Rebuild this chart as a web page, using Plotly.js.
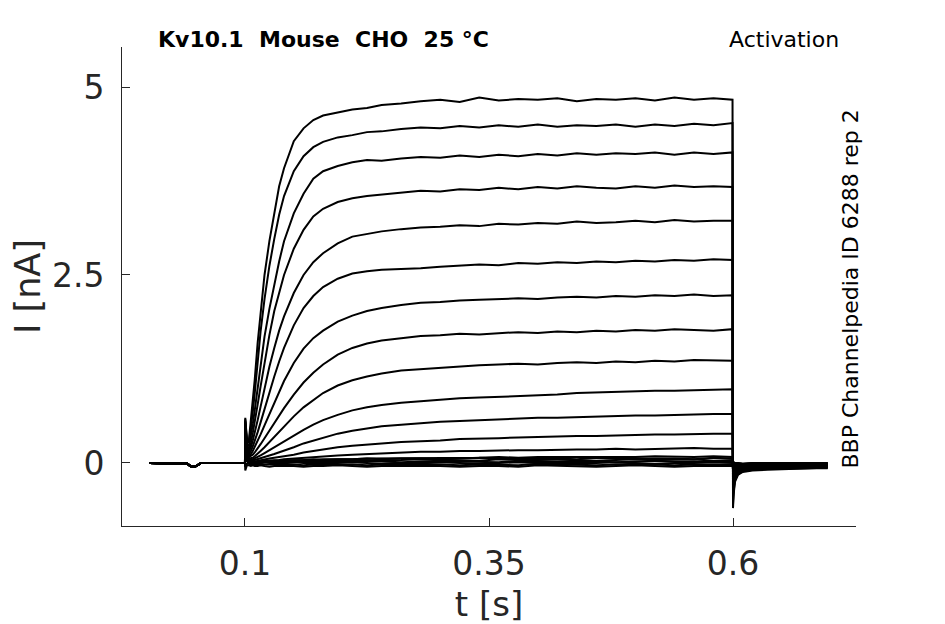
<!DOCTYPE html>
<html>
<head>
<meta charset="utf-8">
<script src="https://cdn.plot.ly/plotly-3.0.1.min.js"></script>
<style>html,body{margin:0;padding:0;background:#fff;}#chart{width:945px;height:624px;}</style>
</head>
<body>
<div id="chart"></div>
<script>
// time axis pieces [s]
const preT  = [0.002, 0.01, 0.02, 0.03, 0.038, 0.041, 0.044, 0.047, 0.05, 0.052, 0.055, 0.065, 0.075, 0.085, 0.095, 0.0998];
const preI  = [0.00, 0.00, 0.00, 0.00, 0.00, -0.01, -0.04, -0.05, -0.04, -0.02, 0.00, 0.00, 0.00, 0.00, 0.00, 0.00];
const pulseT = [0.1, 0.1003, 0.102, 0.104, 0.106, 0.108, 0.11, 0.113, 0.116, 0.12, 0.125, 0.13, 0.135, 0.14, 0.15, 0.16, 0.17, 0.18, 0.195, 0.21, 0.225, 0.24, 0.26, 0.28, 0.3, 0.32, 0.34, 0.36, 0.38, 0.4, 0.42, 0.44, 0.46, 0.48, 0.5, 0.52, 0.54, 0.56, 0.58, 0.5995];
const tailT = [0.6, 0.6006, 0.602, 0.605, 0.61, 0.62, 0.635, 0.65, 0.665, 0.68, 0.697];

// current during the step [nA], one array per sweep
const sweep01 = [0, 0.60, 0.30, 0.30, 0.55, 0.82, 1.11, 1.60, 2.03, 2.50, 2.95, 3.33, 3.68, 3.92, 4.28, 4.45, 4.56, 4.62, 4.66, 4.70, 4.72, 4.76, 4.78, 4.81, 4.83, 4.80, 4.86, 4.82, 4.84, 4.83, 4.85, 4.81, 4.84, 4.83, 4.85, 4.82, 4.86, 4.83, 4.85, 4.83];
const sweep02 = [0, 0.58, 0.28, 0.27, 0.45, 0.68, 0.93, 1.35, 1.75, 2.18, 2.62, 2.98, 3.30, 3.55, 3.88, 4.08, 4.20, 4.27, 4.33, 4.36, 4.40, 4.41, 4.44, 4.46, 4.45, 4.48, 4.46, 4.49, 4.47, 4.50, 4.47, 4.49, 4.48, 4.50, 4.47, 4.50, 4.48, 4.51, 4.49, 4.52];
const sweep03 = [0, 0.56, 0.25, 0.22, 0.35, 0.52, 0.70, 1.00, 1.30, 1.68, 2.05, 2.38, 2.68, 2.95, 3.32, 3.58, 3.78, 3.88, 3.95, 4.00, 4.03, 4.02, 4.05, 4.07, 4.06, 4.09, 4.07, 4.10, 4.08, 4.11, 4.09, 4.12, 4.10, 4.12, 4.11, 4.13, 4.10, 4.13, 4.11, 4.13];
const sweep04 = [0, 0.54, 0.23, 0.18, 0.27, 0.40, 0.54, 0.78, 1.02, 1.35, 1.70, 2.02, 2.28, 2.50, 2.85, 3.10, 3.28, 3.38, 3.47, 3.52, 3.55, 3.57, 3.60, 3.62, 3.61, 3.64, 3.63, 3.66, 3.64, 3.67, 3.65, 3.68, 3.66, 3.65, 3.68, 3.66, 3.69, 3.67, 3.68, 3.67];
const sweep05 = [0, 0.52, 0.21, 0.15, 0.21, 0.30, 0.40, 0.57, 0.75, 1.00, 1.28, 1.53, 1.76, 1.95, 2.26, 2.50, 2.67, 2.79, 2.92, 3.01, 3.05, 3.08, 3.11, 3.13, 3.14, 3.16, 3.15, 3.18, 3.17, 3.19, 3.18, 3.21, 3.19, 3.20, 3.22, 3.20, 3.23, 3.21, 3.22, 3.22];
const sweep06 = [0, 0.50, 0.19, 0.12, 0.16, 0.22, 0.29, 0.41, 0.54, 0.72, 0.94, 1.15, 1.35, 1.53, 1.83, 2.06, 2.22, 2.34, 2.45, 2.52, 2.55, 2.57, 2.58, 2.59, 2.61, 2.62, 2.64, 2.63, 2.66, 2.65, 2.67, 2.66, 2.68, 2.67, 2.69, 2.68, 2.70, 2.69, 2.71, 2.70];
const sweep07 = [0, 0.48, 0.17, 0.10, 0.12, 0.16, 0.21, 0.29, 0.38, 0.50, 0.65, 0.80, 0.95, 1.09, 1.33, 1.52, 1.66, 1.76, 1.88, 1.96, 2.02, 2.06, 2.10, 2.13, 2.14, 2.16, 2.17, 2.18, 2.19, 2.18, 2.20, 2.21, 2.20, 2.22, 2.21, 2.23, 2.22, 2.24, 2.22, 2.23];
const sweep08 = [0, 0.46, 0.15, 0.08, 0.09, 0.11, 0.14, 0.19, 0.25, 0.33, 0.43, 0.53, 0.63, 0.73, 0.91, 1.07, 1.20, 1.31, 1.44, 1.53, 1.59, 1.63, 1.66, 1.69, 1.70, 1.72, 1.71, 1.73, 1.74, 1.73, 1.75, 1.74, 1.76, 1.75, 1.77, 1.76, 1.78, 1.77, 1.76, 1.78];
const sweep09 = [0, 0.44, 0.13, 0.06, 0.06, 0.07, 0.09, 0.12, 0.16, 0.21, 0.28, 0.35, 0.42, 0.49, 0.62, 0.74, 0.84, 0.93, 1.03, 1.10, 1.15, 1.19, 1.23, 1.25, 1.27, 1.29, 1.30, 1.31, 1.32, 1.31, 1.33, 1.34, 1.33, 1.35, 1.34, 1.36, 1.35, 1.37, 1.36, 1.36];
const sweep10 = [0, 0.42, 0.11, 0.05, 0.04, 0.05, 0.06, 0.08, 0.10, 0.13, 0.17, 0.21, 0.25, 0.29, 0.37, 0.44, 0.51, 0.57, 0.64, 0.70, 0.74, 0.77, 0.80, 0.82, 0.84, 0.86, 0.87, 0.88, 0.90, 0.91, 0.91, 0.93, 0.94, 0.94, 0.95, 0.96, 0.96, 0.97, 0.98, 0.98];
const sweep11 = [0, 0.40, 0.10, 0.04, 0.03, 0.03, 0.04, 0.05, 0.06, 0.08, 0.10, 0.12, 0.14, 0.17, 0.21, 0.26, 0.30, 0.34, 0.39, 0.43, 0.46, 0.49, 0.51, 0.53, 0.55, 0.56, 0.57, 0.58, 0.59, 0.60, 0.60, 0.61, 0.62, 0.62, 0.63, 0.63, 0.64, 0.64, 0.65, 0.65];
const sweep12 = [0, 0.38, 0.09, 0.03, 0.02, 0.02, 0.02, 0.03, 0.04, 0.05, 0.06, 0.07, 0.08, 0.09, 0.11, 0.14, 0.16, 0.18, 0.21, 0.23, 0.25, 0.26, 0.28, 0.29, 0.30, 0.32, 0.32, 0.33, 0.34, 0.35, 0.35, 0.36, 0.36, 0.37, 0.37, 0.38, 0.38, 0.39, 0.39, 0.39];
const sweep13 = [0, 0.36, 0.08, 0.02, 0.01, 0.01, 0.01, 0.02, 0.02, 0.03, 0.03, 0.04, 0.04, 0.05, 0.06, 0.07, 0.08, 0.09, 0.10, 0.11, 0.12, 0.13, 0.14, 0.15, 0.15, 0.16, 0.16, 0.17, 0.17, 0.17, 0.18, 0.18, 0.18, 0.19, 0.18, 0.19, 0.19, 0.20, 0.19, 0.19];
const sweep14 = [0, 0.34, 0.07, 0.02, 0.01, 0.01, 0.01, 0.01, 0.01, 0.02, 0.02, 0.02, 0.03, 0.03, 0.03, 0.04, 0.04, 0.05, 0.05, 0.05, 0.06, 0.06, 0.06, 0.07, 0.07, 0.07, 0.07, 0.08, 0.07, 0.08, 0.08, 0.08, 0.07, 0.08, 0.08, 0.09, 0.08, 0.08, 0.09, 0.08];
const sweep15 = [0, 0.30, 0.06, 0.02, 0.01, 0.01, 0.01, 0.01, 0.02, 0.02, 0.02, 0.03, 0.03, 0.03, 0.04, 0.04, 0.05, 0.04, 0.05, 0.05, 0.06, 0.05, 0.06, 0.06, 0.05, 0.06, 0.07, 0.06, 0.06, 0.07, 0.06, 0.05, 0.07, 0.06, 0.06, 0.07, 0.06, 0.05, 0.07, 0.06];
const sweep16 = [0, 0.25, 0.05, 0.01, 0.01, 0.00, 0.01, 0.01, 0.01, 0.01, 0.02, 0.02, 0.02, 0.02, 0.03, 0.03, 0.03, 0.04, 0.03, 0.04, 0.04, 0.03, 0.04, 0.05, 0.04, 0.04, 0.03, 0.05, 0.04, 0.04, 0.05, 0.04, 0.03, 0.04, 0.05, 0.04, 0.04, 0.05, 0.03, 0.04];
const sweep17 = [0, 0.18, 0.04, 0.01, 0.00, 0.00, 0.00, 0.01, 0.01, 0.01, 0.01, 0.01, 0.02, 0.01, 0.02, 0.02, 0.02, 0.01, 0.02, 0.03, 0.02, 0.02, 0.01, 0.02, 0.03, 0.02, 0.02, 0.01, 0.03, 0.02, 0.02, 0.03, 0.02, 0.01, 0.02, 0.03, 0.02, 0.02, 0.01, 0.02];
const sweep18 = [0, 0.10, 0.02, 0.00, 0.00, -0.01, 0.00, 0.00, 0.00, 0.01, 0.00, 0.00, -0.01, 0.00, 0.01, 0.00, 0.00, -0.01, 0.00, 0.01, 0.00, -0.01, 0.00, 0.00, 0.01, 0.00, -0.01, 0.00, 0.01, 0.00, 0.00, -0.01, 0.00, 0.01, 0.00, -0.01, 0.00, 0.00, 0.01, 0.00];
const sweep19 = [0, -0.05, -0.01, -0.01, -0.02, -0.01, -0.02, -0.02, -0.01, -0.02, -0.02, -0.03, -0.02, -0.01, -0.02, -0.03, -0.02, -0.02, -0.01, -0.02, -0.03, -0.02, -0.02, -0.01, -0.02, -0.03, -0.02, -0.02, -0.03, -0.01, -0.02, -0.02, -0.03, -0.02, -0.01, -0.02, -0.03, -0.02, -0.02, -0.02];
const sweep20 = [0, -0.10, -0.03, -0.03, -0.04, -0.03, -0.04, -0.04, -0.03, -0.04, -0.05, -0.04, -0.04, -0.03, -0.04, -0.05, -0.04, -0.04, -0.03, -0.04, -0.05, -0.04, -0.04, -0.03, -0.04, -0.05, -0.04, -0.04, -0.05, -0.03, -0.04, -0.04, -0.05, -0.04, -0.03, -0.04, -0.05, -0.04, -0.04, -0.04];

// tail current after the step [nA]
const tail01 = [-0.60, -0.42, -0.25, -0.16, -0.12, -0.10, -0.09, -0.08, -0.08, -0.07, -0.07];
const tail02 = [-0.55, -0.38, -0.23, -0.15, -0.11, -0.09, -0.08, -0.08, -0.07, -0.07, -0.06];
const tail03 = [-0.50, -0.34, -0.21, -0.14, -0.10, -0.09, -0.08, -0.07, -0.07, -0.06, -0.06];
const tail04 = [-0.45, -0.30, -0.19, -0.13, -0.10, -0.08, -0.07, -0.07, -0.06, -0.06, -0.06];
const tail05 = [-0.40, -0.27, -0.17, -0.12, -0.09, -0.08, -0.07, -0.06, -0.06, -0.06, -0.05];
const tail06 = [-0.35, -0.24, -0.15, -0.11, -0.08, -0.07, -0.06, -0.06, -0.05, -0.05, -0.05];
const tail07 = [-0.30, -0.20, -0.13, -0.10, -0.08, -0.07, -0.06, -0.05, -0.05, -0.05, -0.05];
const tail08 = [-0.26, -0.17, -0.12, -0.09, -0.07, -0.06, -0.05, -0.05, -0.05, -0.04, -0.04];
const tail09 = [-0.22, -0.15, -0.10, -0.08, -0.06, -0.05, -0.05, -0.04, -0.04, -0.04, -0.04];
const tail10 = [-0.18, -0.12, -0.09, -0.07, -0.06, -0.05, -0.04, -0.04, -0.04, -0.04, -0.03];
const tail11 = [-0.15, -0.10, -0.08, -0.06, -0.05, -0.04, -0.04, -0.04, -0.03, -0.03, -0.03];
const tail12 = [-0.12, -0.08, -0.06, -0.05, -0.04, -0.04, -0.03, -0.03, -0.03, -0.03, -0.03];
const tail13 = [-0.10, -0.07, -0.05, -0.04, -0.04, -0.03, -0.03, -0.03, -0.03, -0.02, -0.02];
const tail14 = [-0.08, -0.06, -0.04, -0.04, -0.03, -0.03, -0.03, -0.02, -0.02, -0.02, -0.02];
const tail15 = [-0.06, -0.05, -0.04, -0.03, -0.03, -0.02, -0.02, -0.02, -0.02, -0.02, -0.02];
const tail16 = [-0.05, -0.04, -0.03, -0.03, -0.02, -0.02, -0.02, -0.02, -0.01, -0.02, -0.01];
const tail17 = [-0.04, -0.03, -0.02, -0.02, -0.02, -0.01, -0.02, -0.01, -0.01, -0.01, -0.01];
const tail18 = [-0.02, -0.02, -0.01, -0.01, -0.01, -0.01, 0.00, -0.01, -0.01, 0.00, -0.01];
const tail19 = [0.01, 0.00, -0.01, 0.00, -0.01, 0.00, -0.01, 0.00, 0.00, -0.01, 0.00];
const tail20 = [0.02, 0.01, 0.00, 0.00, -0.01, 0.00, 0.00, -0.01, 0.00, 0.00, 0.00];

const xTickVals = [0.1, 0.35, 0.6];
const xTickText = ['0.1', '0.35', '0.6'];
const yTickVals = [0, 2.5, 5];
const yTickText = ['0', '2.5', '5'];

const sweeps = [sweep01, sweep02, sweep03, sweep04, sweep05, sweep06, sweep07, sweep08, sweep09, sweep10,
                sweep11, sweep12, sweep13, sweep14, sweep15, sweep16, sweep17, sweep18, sweep19, sweep20];
const tails = [tail01, tail02, tail03, tail04, tail05, tail06, tail07, tail08, tail09, tail10,
               tail11, tail12, tail13, tail14, tail15, tail16, tail17, tail18, tail19, tail20];

const traces = sweeps.map((s, i) => ({
  type: 'scatter', mode: 'lines',
  x: preT.concat(pulseT, tailT),
  y: preI.concat(s, tails[i]),
  line: {color: '#000000', width: 2},
  hoverinfo: 'skip', showlegend: false
}));

const axColor = '#262626';
const font = 'DejaVu Sans, sans-serif';

const layout = {
  width: 945, height: 624,
  margin: {l: 122, r: 89, t: 47, b: 98},
  paper_bgcolor: '#ffffff', plot_bgcolor: '#ffffff',
  showlegend: false,
  xaxis: {
    range: [-0.026, 0.726], tickvals: xTickVals, ticktext: xTickText,
    ticks: 'inside', ticklen: 8, tickwidth: 1, tickcolor: axColor,
    showline: true, linecolor: axColor, linewidth: 1, mirror: false,
    showgrid: false, zeroline: false,
    tickfont: {family: font, size: 33, color: axColor},
    ticklabelstandoff: 8,
    title: {text: 't [s]', font: {family: font, size: 34, color: axColor}, standoff: 14}
  },
  yaxis: {
    range: [-0.838, 5.532], tickvals: yTickVals, ticktext: yTickText,
    ticks: 'inside', ticklen: 8, tickwidth: 1, tickcolor: axColor,
    showline: true, linecolor: axColor, linewidth: 1, mirror: false,
    showgrid: false, zeroline: false,
    tickfont: {family: font, size: 33, color: axColor},
    ticklabelstandoff: 10,
    title: {text: 'I [nA]', font: {family: font, size: 35, color: axColor}, standoff: 0}
  },
  annotations: [
    {text: '<b>Kv10.1  Mouse  CHO  25 °C</b>', xref: 'paper', yref: 'paper', x: 0.046, y: 1.0, xanchor: 'left', yanchor: 'middle',
     yshift: 8, showarrow: false, font: {family: font, size: 22, color: '#000000'}},
    {text: 'Activation', xref: 'paper', yref: 'paper', x: 0.98, y: 1.0, xanchor: 'right', yanchor: 'middle',
     yshift: 8, showarrow: false, font: {family: font, size: 22, color: '#000000'}},
    {text: 'BBP Channelpedia ID 6288 rep 2', xref: 'paper', yref: 'paper', x: 0.992, y: 0.494, xanchor: 'center', yanchor: 'middle',
     textangle: -90, showarrow: false, font: {family: font, size: 22, color: '#000000'}}
  ]
};

Plotly.newPlot('chart', traces, layout, {staticPlot: true, displayModeBar: false});
</script>
</body>
</html>
